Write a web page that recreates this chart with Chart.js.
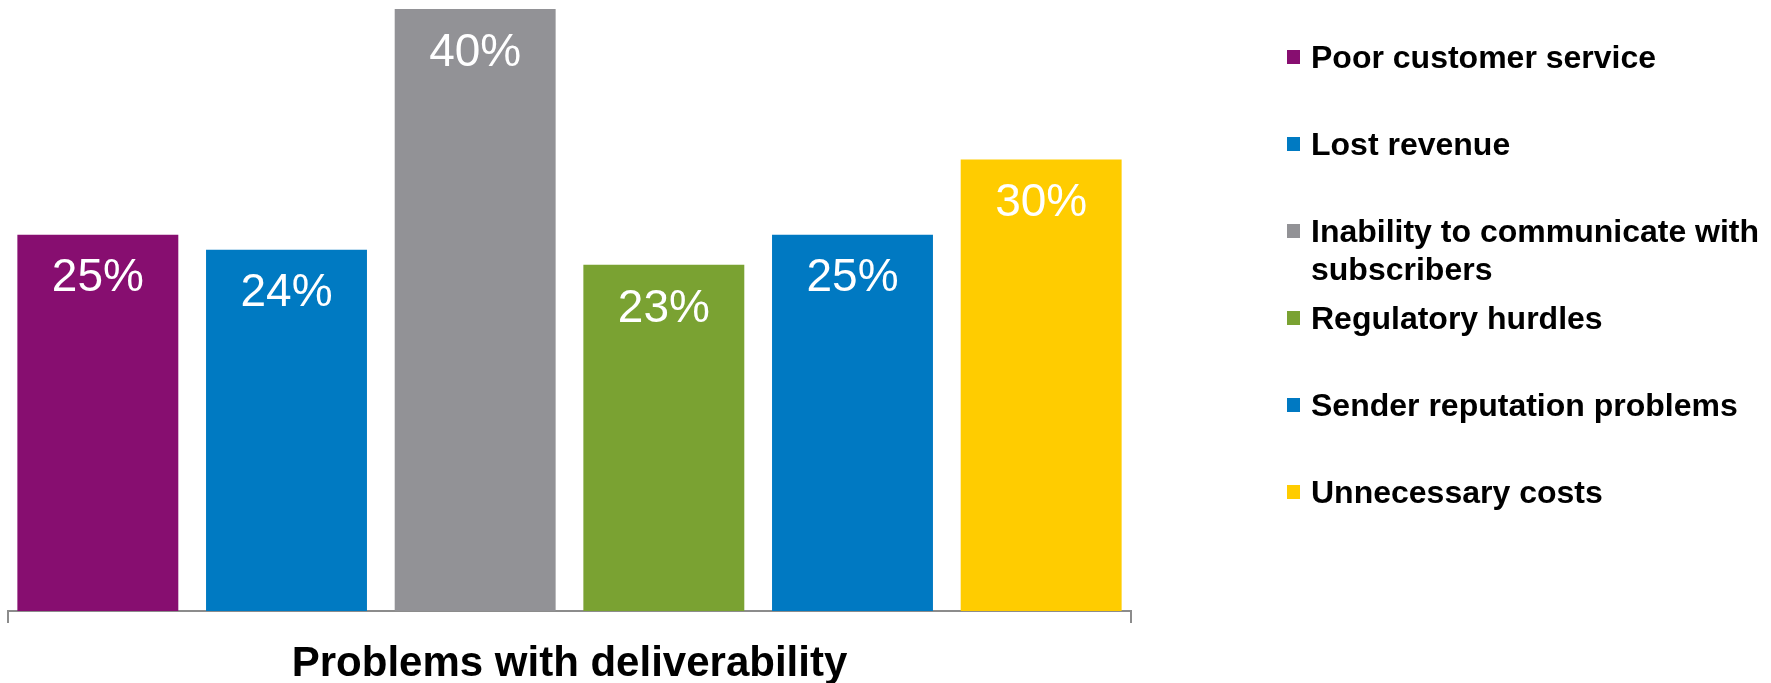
<!DOCTYPE html>
<html>
<head>
<meta charset="utf-8">
<script src="https://cdn.jsdelivr.net/npm/chart.js@4"></script>
<style>
  html, body { margin: 0; padding: 0; background: #fff; }
  #wrap { position: relative; width: 1771px; height: 683px; overflow: hidden; }
  #c { position: absolute; left: 0; top: 0; }
  #legend { position: absolute; left: 1287px; top: 38px; font-family: "Liberation Sans", Arial, sans-serif; font-weight: bold; font-size: 32px; color: #000; }
  .item { position: relative; height: 87px; }
  .sw { position: absolute; left: 0; top: 12px; width: 13px; height: 14px; }
  .tx { position: absolute; left: 24px; top: 0; width: 458px; line-height: 38px; white-space: normal; }
</style>
</head>
<body>
<div id="wrap">
  <canvas id="c" width="1771" height="683"></canvas>
  <div id="legend"></div>
</div>
<script>
const categories = ["Problems with deliverability"];
const seriesNames = ["Poor customer service", "Lost revenue", "Inability to communicate with subscribers", "Regulatory hurdles", "Sender reputation problems", "Unnecessary costs"];
const seriesValues = [25, 24, 40, 23, 25, 30];
const seriesColors = ["#870E70", "#007AC2", "#929296", "#7AA232", "#0079C2", "#FFCC00"];

const datasets = seriesNames.map((n, i) => ({
  label: n,
  data: [seriesValues[i]],
  backgroundColor: seriesColors[i],
  borderWidth: 0,
  categoryPercentage: 1.008,
  barPercentage: 0.853
}));

const labelPlugin = {
  id: 'barLabels',
  afterDatasetsDraw(chart) {
    const ctx = chart.ctx;
    ctx.save();
    ctx.font = '46px "Liberation Sans", Arial, sans-serif';
    ctx.fillStyle = '#ffffff';
    ctx.textAlign = 'center';
    ctx.textBaseline = 'middle';
    chart.data.datasets.forEach((ds, i) => {
      const meta = chart.getDatasetMeta(i);
      meta.data.forEach((el, j) => {
        ctx.fillText(ds.data[j] + '%', el.x, el.y + 44);
      });
    });
    ctx.restore();
  }
};

new Chart(document.getElementById('c'), {
  type: 'bar',
  data: { labels: categories, datasets },
  options: {
    responsive: false,
    animation: false,
    devicePixelRatio: 1,
    layout: { padding: { left: 8, right: 640, top: 9, bottom: 0 } },
    plugins: { legend: { display: false }, tooltip: { enabled: false } },
    scales: {
      x: {
        afterFit: (scale) => { scale.height = 72; },
        grid: { display: true, drawOnChartArea: false, drawTicks: true, tickLength: 12, color: '#8C8C8C', lineWidth: 2, offset: true },
        border: { display: true, color: '#8C8C8C', width: 2 },
        ticks: { color: '#000', padding: 16, font: { family: '"Liberation Sans", Arial, sans-serif', size: 42, weight: 'bold' } }
      },
      y: { display: false, min: 0, max: 40 }
    }
  },
  plugins: [labelPlugin]
});

const lg = document.getElementById('legend');
seriesNames.forEach((n, i) => {
  const it = document.createElement('div');
  it.className = 'item';
  const sw = document.createElement('div');
  sw.className = 'sw';
  sw.style.background = seriesColors[i];
  const tx = document.createElement('div');
  tx.className = 'tx';
  tx.textContent = n;
  it.appendChild(sw); it.appendChild(tx);
  lg.appendChild(it);
});
</script>
</body>
</html>
